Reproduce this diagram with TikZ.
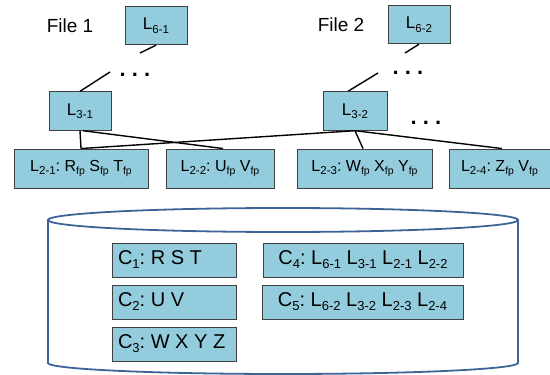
\documentclass[tikz,border=0pt]{standalone}
\usepackage{fontspec}
\setmainfont{Liberation Sans}
\frenchspacing
\definecolor{boxfill}{HTML}{93CDDD}
\definecolor{boxline}{HTML}{404040}
\definecolor{drum}{HTML}{3C6496}
% lowered subscripts for block labels and chunk labels
\newcommand{\lsub}[1]{\raisebox{-3.5pt}{\fontsize{11.5}{12}\selectfont #1}}
\newcommand{\fpsub}{\raisebox{-3.5pt}{\fontsize{10.5}{11}\selectfont fp}}
\newcommand{\csub}[1]{\raisebox{-4pt}{\fontsize{13}{14}\selectfont #1}}
\newcommand{\chunkrow}[1]{\makebox[112pt][l]{#1}}
\begin{document}
\begin{tikzpicture}[x=1pt,y=-1pt,
  block/.style={draw=boxline, fill=boxfill, line width=0.9pt, inner sep=0pt,
    font=\fontsize{16}{18}\selectfont},
  upper/.style={block, font=\fontsize{17}{19}\selectfont, minimum height=38.5pt},
  leaf/.style={block, minimum height=39pt},
  chunk/.style={block, font=\fontsize{20}{22}\selectfont, minimum height=34pt},
  chunkleft/.style={chunk, inner xsep=6pt, minimum width=124pt},
  link/.style={line width=1.4pt},
  ellip/.style={font=\bfseries\fontsize{22}{22}\selectfont, inner sep=0pt},
  filelabel/.style={font=\fontsize{19}{22}\selectfont, inner sep=0pt},
  drumline/.style={draw=drum, line width=1.8pt}]
\useasboundingbox (0,0) rectangle (550,375);

% storage drum
\draw[drumline] (283,220) ellipse [x radius=235, y radius=12];
\draw[drumline] (48,220) -- (48,363) arc[start angle=180, end angle=0, x radius=235, y radius=11] -- (518,220);

% file labels
\node[filelabel] (f1) at (70,26) {File 1};
\node[filelabel] (f2) at (341,25) {File 2};

% tree levels
\node[upper, minimum width=62pt] (l61) at (156,25.5) {L\lsub{6-1}};
\node[upper, minimum width=62pt] (l62) at (419,24.5) {L\lsub{6-2}};
\node[upper, minimum width=62pt] (l31) at (80,111) {L\lsub{3-1}};
\node[upper, minimum width=64pt] (l32) at (355,111) {L\lsub{3-2}};

\node[leaf, minimum width=134pt] (l21) at (81,168.5) {L\lsub{2-1}: R\fpsub{} S\fpsub{} T\fpsub};
\node[leaf, minimum width=108pt] (l22) at (220,168.5) {L\lsub{2-2}: U\fpsub{} V\fpsub};
\node[leaf, minimum width=135pt] (l23) at (364.5,168.5) {L\lsub{2-3}: W\fpsub{} X\fpsub{} Y\fpsub};
\node[leaf, minimum width=101pt] (l24) at (499.5,168.5) {L\lsub{2-4}: Z\fpsub{} V\fpsub};

% elided levels
\node[ellip] (e1) at (135,75) {. . .};
\node[ellip] (e2) at (408,73) {. . .};
\node[ellip] (e3) at (426,123) {. . .};

\coordinate (t1) at (140,53);
\coordinate (b1) at (110,72);
\coordinate (t2) at (405,53);
\coordinate (b2) at (378,73);

\draw[link] (l61.south) -- (t1);
\draw[link] (b1) -- (l31.north);
\draw[link] (l62.south) -- (t2);
\draw[link] (b2) -- ([xshift=-7pt]l32.north);

\draw[link] (l31.south) -- (l21.north);
\draw[link] ([xshift=3pt]l31.south) -- ([xshift=3pt]l22.north);
\draw[link] (l32.south) -- (l21.north);
\draw[link] (l32.south) -- ([xshift=-1.5pt]l23.north);
\draw[link] (l32.south) -- ([xshift=2.5pt]l24.north);

% chunks stored in the drum
\node[chunkleft] (c1) at (174,260) {\chunkrow{C\csub{1}: R S T}};
\node[chunkleft] (c2) at (174,302) {\chunkrow{C\csub{2}: U V}};
\node[chunkleft] (c3) at (174,344) {\chunkrow{C\csub{3}: W X Y Z}};
\node[chunk, minimum width=200pt] (c4) at (363,260) {C\csub{4}: L\csub{6-1} L\csub{3-1} L\csub{2-1} L\csub{2-2}};
\node[chunk, minimum width=201pt] (c5) at (362.5,302) {C\csub{5}: L\csub{6-2} L\csub{3-2} L\csub{2-3} L\csub{2-4}};
\end{tikzpicture}
\end{document}
